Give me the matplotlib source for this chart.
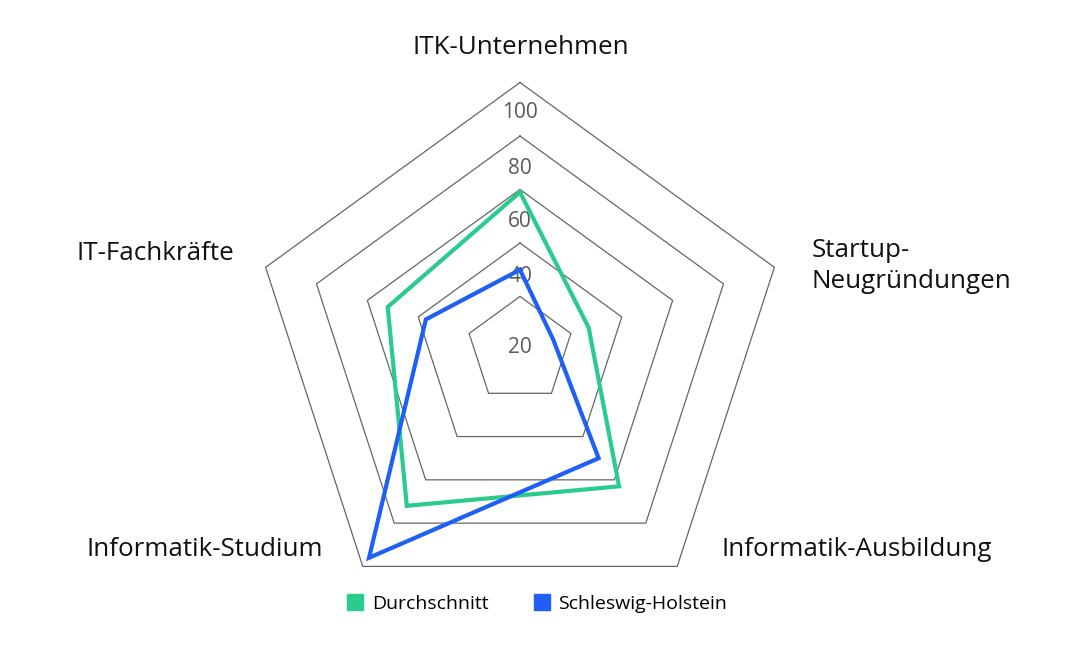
import numpy as np
import matplotlib
matplotlib.use("Agg")
import matplotlib.pyplot as plt
from matplotlib.lines import Line2D

# Data
categories = ["ITK-Unternehmen", "Startup-\nNeugründungen", "Informatik-Ausbildung",
              "Informatik-Studium", "IT-Fachkräfte"]
durchschnitt = [59, 27, 63, 72, 52]
schleswig_holstein = [30, 13, 50, 96, 37]
ring_values = [20, 40, 60, 80, 100]
tick_labels = ["20", "40", "60", "80", "100"]

green = "#2bcb8e"
blue = "#1f5ff5"

plt.rcParams["font.family"] = ["Open Sans", "DejaVu Sans"]

# angles clockwise from the top
n = len(categories)
angles = np.pi / 2 - np.arange(n) * 2 * np.pi / n


def to_xy(values):
    v = np.asarray(values, dtype=float)
    x = v * np.cos(angles)
    y = v * np.sin(angles)
    return np.append(x, x[0]), np.append(y, y[0])


fig = plt.figure(figsize=(10.9, 6.68), dpi=100)
ax = fig.add_axes([0, 0, 1, 1])
scale = 2.675  # px per unit
ax.set_xlim(-520 / scale, 570 / scale)
ax.set_ylim(-318 / scale, 350 / scale)
ax.axis("off")

# pentagon grid
for r in ring_values:
    gx, gy = to_xy([r] * n)
    ax.plot(gx, gy, color="#666666", lw=0.9, zorder=1)

# tick labels (sit a bit inside each ring)
label_r = [1, 27.3, 47.9, 68, 88.6]
for r, t in zip(label_r, tick_labels):
    ax.text(0, r, t, ha="center", va="center", fontsize=15, color="#5a5a5a", zorder=2)

# series
dx, dy = to_xy(durchschnitt)
ax.plot(dx, dy, color=green, lw=3.0, solid_joinstyle="miter", zorder=3)
sx, sy = to_xy(schleswig_holstein)
ax.plot(sx, sy, color=blue, lw=3.0, solid_joinstyle="miter", zorder=4)

# category labels
def px(x, y):
    return (x - 520) / scale, (350 - y) / scale

lab_kw = dict(fontsize=18.7, color="#111111")
ax.text(*px(521, 48), categories[0], ha="center", va="center", **lab_kw)
ax.text(*px(812, 266), categories[1], ha="left", va="center", linespacing=1.32, **lab_kw)
ax.text(*px(721, 550), categories[2], ha="left", va="center", **lab_kw)
ax.text(*px(323, 550), categories[3], ha="right", va="center", **lab_kw)
ax.text(*px(234, 254), categories[4], ha="right", va="center", **lab_kw)

# legend
handles = [Line2D([], [], marker="s", ls="", color=green, markersize=11),
           Line2D([], [], marker="s", ls="", color=blue, markersize=11)]
fig.legend(handles, ["Durchschnitt", "Schleswig-Holstein"], loc="center",
           bbox_to_anchor=(534 / 1090, 1 - 604 / 668), ncol=2, frameon=False,
           fontsize=14, handletextpad=0.1, columnspacing=2.0, handlelength=1.5)

fig.savefig("out.png", dpi=100)
